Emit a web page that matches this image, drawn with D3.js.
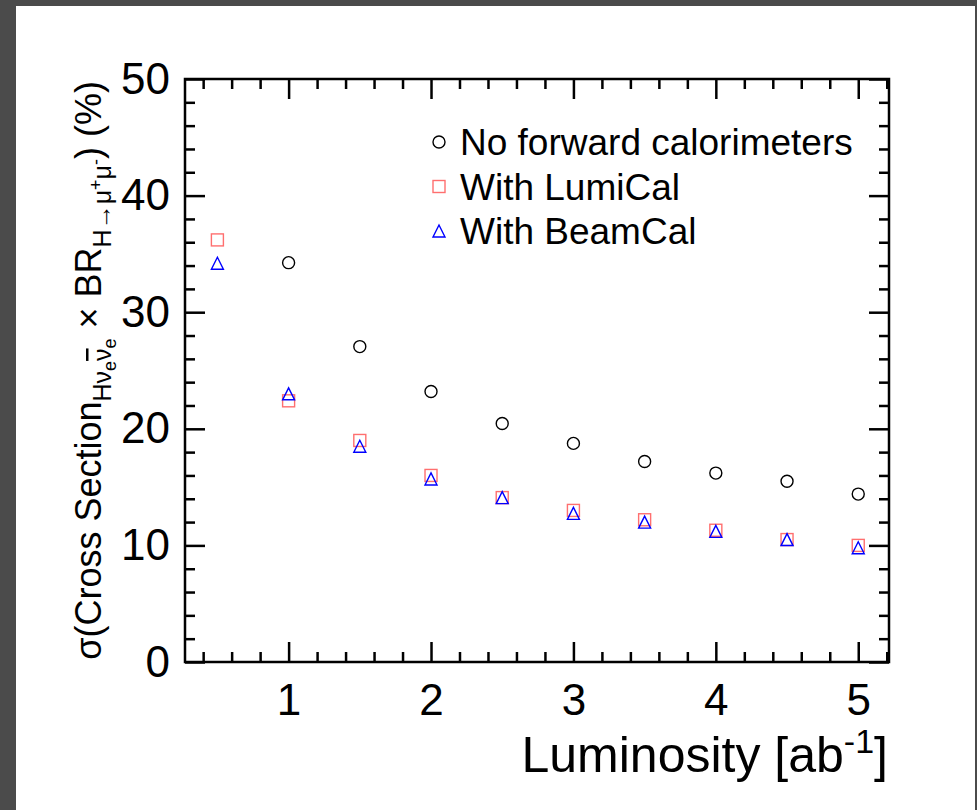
<!DOCTYPE html>
<html>
<head>
<meta charset="utf-8">
<script src="https://cdn.jsdelivr.net/npm/d3@7"></script>
<style>
  html, body { margin: 0; padding: 0; background: #4b4b4b; }
  svg { display: block; }
  text { font-family: "Liberation Sans", Arial, Helvetica, sans-serif; fill: #000; }
</style>
</head>
<body>
<svg id="chart" width="977" height="810"></svg>
<script>
// ---- data ----
const luminosity = [0.5, 1, 1.5, 2, 2.5, 3, 3.5, 4, 4.5, 5];
const noForward  = [null, 34.25, 27.05, 23.2, 20.45, 18.75, 17.2, 16.2, 15.5, 14.4];
const withLumiCal = [36.2, 22.4, 19.0, 16.0, 14.1, 13.0, 12.2, 11.3, 10.5, 10.0];
const withBeamCal = [34.2, 23.0, 18.5, 15.7, 14.1, 12.75, 12.0, 11.2, 10.5, 9.8];
const seriesNames = ["No forward calorimeters", "With LumiCal", "With BeamCal"];
const xTickValues = [1, 2, 3, 4, 5];
const yTickValues = [0, 10, 20, 30, 40, 50];
const xDomain = [0.2725, 5.216];
const yDomain = [0, 50];

// ---- layout ----
const W = 977, H = 810;
const L = 185, R = 889, T = 79, B = 662;
const svg = d3.select("#chart");

svg.append("rect").attr("x", 0).attr("y", 0).attr("width", W).attr("height", H).attr("fill", "#4b4b4b");
svg.append("rect").attr("x", 16).attr("y", 6).attr("width", W - 18).attr("height", H - 6).attr("fill", "#ffffff");

const x = d3.scaleLinear().domain(xDomain).range([L, R]);
const y = d3.scaleLinear().domain(yDomain).range([B, T]);

const xMinor = d3.range(0.4, 5.21, 0.2).map(v => +v.toFixed(2)).filter(v => !xTickValues.includes(v));
const yMinor = d3.range(0, 50.1, 2).filter(v => v % 10 !== 0);

const tickW = 2.5, MAJ = 20, MIN = 10, LBL = 44;

function styleAxis(g) {
  g.select(".domain").remove();
  g.selectAll(".tick line").attr("stroke", "#000").attr("stroke-width", tickW);
  g.selectAll(".tick text").attr("font-family", "Liberation Sans, Arial, sans-serif").attr("fill", "#000");
}

// bottom
svg.append("g").attr("transform", `translate(0,${B})`)
  .call(d3.axisBottom(x).tickValues(xTickValues).tickSizeInner(-MAJ).tickSizeOuter(0).tickPadding(22).tickFormat(d3.format("d")))
  .call(styleAxis)
  .selectAll(".tick text").attr("font-size", LBL);
svg.append("g").attr("transform", `translate(0,${B})`)
  .call(d3.axisBottom(x).tickValues(xMinor).tickSizeInner(-MIN).tickSizeOuter(0).tickFormat(""))
  .call(styleAxis);
// top
svg.append("g").attr("transform", `translate(0,${T})`)
  .call(d3.axisTop(x).tickValues(xTickValues).tickSizeInner(-MAJ).tickSizeOuter(0).tickFormat(""))
  .call(styleAxis);
svg.append("g").attr("transform", `translate(0,${T})`)
  .call(d3.axisTop(x).tickValues(xMinor).tickSizeInner(-MIN).tickSizeOuter(0).tickFormat(""))
  .call(styleAxis);
// left
svg.append("g").attr("transform", `translate(${L},0)`)
  .call(d3.axisLeft(y).tickValues(yTickValues).tickSizeInner(-MAJ).tickSizeOuter(0).tickPadding(15).tickFormat(d3.format("d")))
  .call(styleAxis)
  .selectAll(".tick text").attr("font-size", LBL);
svg.append("g").attr("transform", `translate(${L},0)`)
  .call(d3.axisLeft(y).tickValues(yMinor).tickSizeInner(-MIN).tickSizeOuter(0).tickFormat(""))
  .call(styleAxis);
// right
svg.append("g").attr("transform", `translate(${R},0)`)
  .call(d3.axisRight(y).tickValues(yTickValues).tickSizeInner(-MAJ).tickSizeOuter(0).tickFormat(""))
  .call(styleAxis);
svg.append("g").attr("transform", `translate(${R},0)`)
  .call(d3.axisRight(y).tickValues(yMinor).tickSizeInner(-MIN).tickSizeOuter(0).tickFormat(""))
  .call(styleAxis);

// frame
svg.append("rect").attr("x", L).attr("y", T).attr("width", R - L).attr("height", B - T)
  .attr("fill", "none").attr("stroke", "#000").attr("stroke-width", 2.5);

// ---- markers ----
const ms = 12;
function circleM(g, cx, cy) {
  g.append("circle").attr("cx", cx).attr("cy", cy).attr("r", ms / 2)
    .attr("fill", "none").attr("stroke", "#000").attr("stroke-width", 1.4);
}
function squareM(g, cx, cy) {
  g.append("rect").attr("x", cx - ms / 2).attr("y", cy - ms / 2).attr("width", ms).attr("height", ms)
    .attr("fill", "none").attr("stroke", "#ff6f6f").attr("stroke-width", 1.4);
}
function triM(g, cx, cy) {
  const h = ms;
  g.append("path").attr("d", `M${cx},${cy - h / 2}L${cx + ms / 2},${cy + h / 2}L${cx - ms / 2},${cy + h / 2}Z`)
    .attr("fill", "none").attr("stroke", "#0000ff").attr("stroke-width", 1.4);
}
const markers = [circleM, squareM, triM];
const seriesValues = [noForward, withLumiCal, withBeamCal];

const pts = svg.append("g");
seriesValues.forEach((vals, si) => {
  luminosity.forEach((lx, i) => {
    if (vals[i] == null) return;
    markers[si](pts, x(lx), y(vals[i]));
  });
});

// ---- legend ----
const leg = svg.append("g");
const legY = [142, 186.5, 231];
seriesNames.forEach((name, i) => {
  markers[i](leg, 439, legY[i]);
  leg.append("text").attr("x", 460).attr("y", legY[i] + 13).attr("font-size", 37).text(name);
});

// ---- axis titles ----
const xt = svg.append("text").attr("x", 888).attr("y", 772).attr("text-anchor", "end").attr("font-size", 50);
xt.append("tspan").text("Luminosity [ab");
xt.append("tspan").attr("font-size", 34).attr("dy", -19).text("-1");
xt.append("tspan").attr("dy", 19).text("]");

const yt = svg.append("text").attr("transform", "translate(101,81) rotate(-90)")
  .attr("text-anchor", "end").attr("font-size", 36);
yt.append("tspan").text("σ(Cross Section");
yt.append("tspan").attr("font-size", 25).attr("dy", 10).text("Hν");
yt.append("tspan").attr("font-size", 18).attr("dy", 5).text("e");
yt.append("tspan").attr("font-size", 25).attr("dy", -5).attr("text-decoration", "overline").text("ν");
yt.append("tspan").attr("font-size", 18).attr("dy", 5).text("e");
yt.append("tspan").attr("font-size", 36).attr("dy", -15).text(" × BR");
yt.append("tspan").attr("font-size", 25).attr("dy", 10).text("H→μ");
yt.append("tspan").attr("font-size", 18).attr("dy", -9).text("+");
yt.append("tspan").attr("font-size", 25).attr("dy", 9).text("μ");
yt.append("tspan").attr("font-size", 18).attr("dy", -9).text("-");
yt.append("tspan").attr("font-size", 36).attr("dy", -1).text(") (%)");
</script>
</body>
</html>
